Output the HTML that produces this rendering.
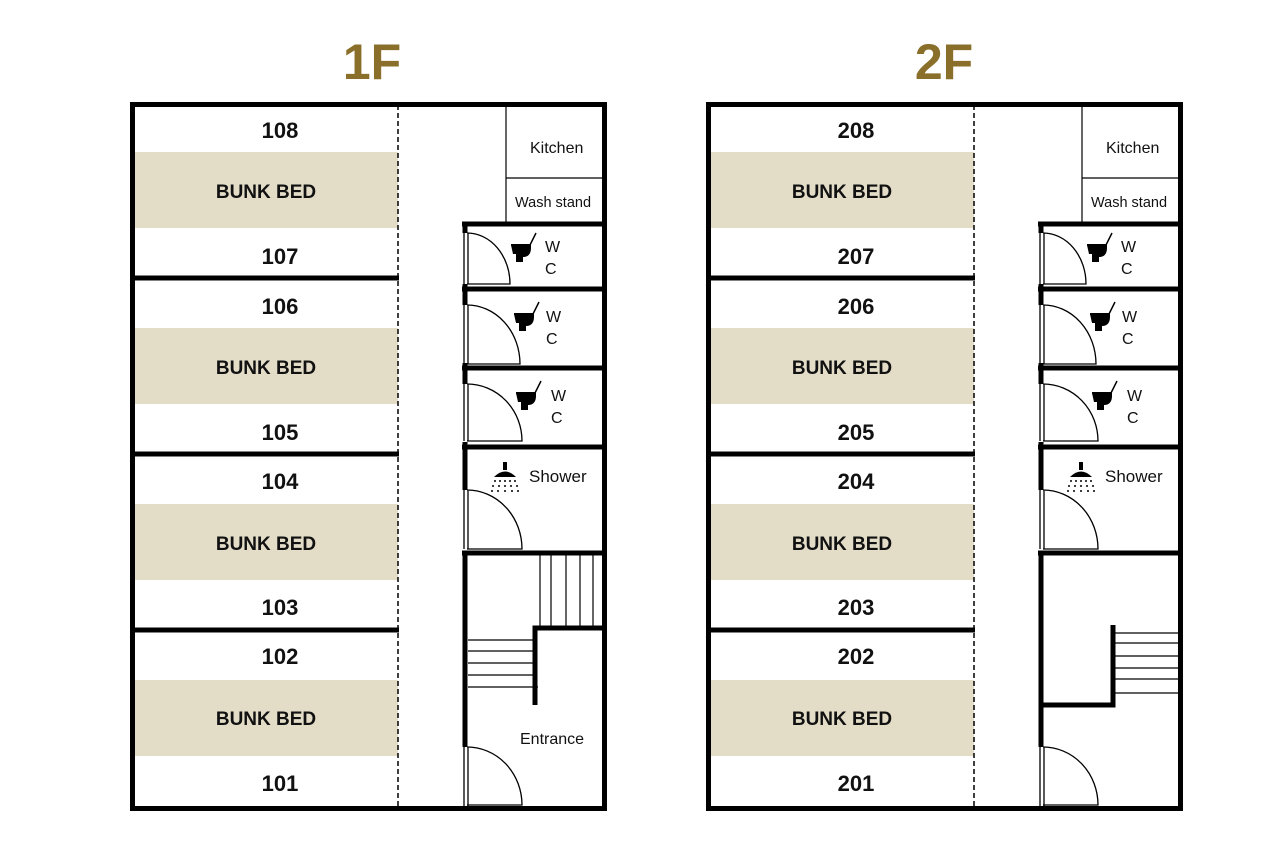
<!DOCTYPE html>
<html><head><meta charset="utf-8"><style>
html,body{margin:0;padding:0;background:#fff;}
svg{display:block;}
text{font-family:"Liberation Sans",sans-serif;}
.rn{font-size:22px;font-weight:bold;fill:#111;text-anchor:middle;}
.bb{font-size:19px;font-weight:bold;fill:#111;text-anchor:middle;}
.sm{font-size:16px;fill:#111;}
.ti{font-size:50px;font-weight:bold;fill:#8a6f2a;text-anchor:middle;}
</style></head><body>
<svg width="1280" height="854" viewBox="0 0 1280 854" xmlns="http://www.w3.org/2000/svg">
<defs>
 <g id="toilet">
  <line x1="0" y1="0" x2="6" y2="-12" stroke="#000" stroke-width="1.5"/>
  <path d="M-19 0 H1 V3 C1 9 -2 12 -7 12 V17 H-14 V9 H-17 Z" fill="#000"/>
  <line x1="-19" y1="0" x2="1" y2="0" stroke="#000" stroke-width="2"/>
 </g>
 <g id="shower" fill="#000">
  <rect x="-2" y="-14" width="4" height="8"/>
  <path d="M-11 1 Q0 -10 11 1 Z"/>
  <g>
   <circle cx="-10" cy="5" r="1"/><circle cx="-5" cy="5" r="1"/><circle cx="0" cy="5" r="1"/><circle cx="5" cy="5" r="1"/><circle cx="10" cy="5" r="1"/>
   <circle cx="-12" cy="10" r="1"/><circle cx="-6" cy="10" r="1"/><circle cx="0" cy="10" r="1"/><circle cx="6" cy="10" r="1"/><circle cx="12" cy="10" r="1"/>
   <circle cx="-13" cy="15" r="1"/><circle cx="-7" cy="15" r="1"/><circle cx="0" cy="15" r="1"/><circle cx="7" cy="15" r="1"/><circle cx="13" cy="15" r="1"/>
  </g>
 </g>
 <g id="floor">
  <!-- bunk beds -->
  <g fill="#e3ddc8">
   <rect x="135" y="152" width="263" height="76"/>
   <rect x="135" y="328" width="263" height="76"/>
   <rect x="135" y="504" width="263" height="76"/>
   <rect x="135" y="680" width="263" height="76"/>
  </g>
  <!-- dashed corridor line -->
  <line x1="398" y1="105" x2="398" y2="809" stroke="#000" stroke-width="1.5" stroke-dasharray="5,3"/>
  <!-- room walls -->
  <g stroke="#000" stroke-width="5">
   <line x1="130" y1="278" x2="399" y2="278"/>
   <line x1="130" y1="454" x2="399" y2="454"/>
   <line x1="130" y1="630" x2="399" y2="630"/>
  </g>
  <!-- kitchen -->
  <g stroke="#000" stroke-width="1.2" fill="none">
   <line x1="506" y1="104" x2="506" y2="222"/>
   <line x1="506" y1="178" x2="604" y2="178"/>
  </g>
  <!-- wc block walls -->
  <g stroke="#000" stroke-width="5">
   <line x1="462" y1="224" x2="606" y2="224"/>
   <line x1="462" y1="289" x2="606" y2="289"/>
   <line x1="462" y1="368" x2="606" y2="368"/>
   <line x1="462" y1="447" x2="606" y2="447"/>
   <line x1="462" y1="553" x2="606" y2="553"/>
   <line x1="465" y1="222" x2="465" y2="233"/>
   <line x1="465" y1="284" x2="465" y2="305"/>
   <line x1="465" y1="363" x2="465" y2="384"/>
   <line x1="465" y1="442" x2="465" y2="490"/>
  </g>
  <!-- doors -->
  <g stroke="#000" stroke-width="1.3" fill="none">
   <path d="M464 233 V284 M468 233 V284 M467 233 A43 51 0 0 1 510 284 H467"/>
   <path d="M464 305 V364 M468 305 V364 M467 305 A53 59 0 0 1 520 364 H467"/>
   <path d="M464 384 V441 M468 384 V441 M467 384 A55 57 0 0 1 522 441 H467"/>
   <path d="M464 490 V549 M468 490 V549 M467 490 A55 59 0 0 1 522 549 H467"/>
   <path d="M464 747 V808 M468 747 V808 M467 747 A55 58 0 0 1 522 805 H467"/>
  </g>
  <use href="#toilet" x="530" y="245"/>
  <use href="#toilet" x="533" y="314"/>
  <use href="#toilet" x="535" y="393"/>
  <use href="#shower" x="505" y="476"/>
  <!-- outer -->
  <rect x="132.5" y="104.5" width="472" height="704" fill="none" stroke="#000" stroke-width="5"/>
 </g>
</defs>

<text class="ti" x="372" y="79">1F</text>
<text class="ti" x="944" y="79">2F</text>

<use href="#floor"/>
<use href="#floor" x="576"/>

<!-- 1F stairs -->
<g stroke="#000" stroke-width="5" fill="none">
 <line x1="465" y1="551" x2="465" y2="747"/>
 <path d="M604 628 H535 V705"/>
</g>
<g stroke="#000" stroke-width="1.2">
 <line x1="540" y1="555" x2="540" y2="626"/>
 <line x1="551" y1="555" x2="551" y2="626"/>
 <line x1="566" y1="555" x2="566" y2="626"/>
 <line x1="580" y1="555" x2="580" y2="626"/>
 <line x1="593" y1="555" x2="593" y2="626"/>
 <line x1="468" y1="640" x2="533" y2="640"/>
 <line x1="468" y1="651" x2="533" y2="651"/>
 <line x1="468" y1="663" x2="533" y2="663"/>
 <line x1="468" y1="675" x2="533" y2="675"/>
 <line x1="468" y1="687" x2="538" y2="687"/>
</g>

<!-- 2F stairs -->
<g stroke="#000" stroke-width="5" fill="none">
 <line x1="1041" y1="551" x2="1041" y2="747"/>
 <path d="M1041 705 H1113 V625"/>
</g>
<g stroke="#000" stroke-width="1.2">
 <line x1="1115" y1="633" x2="1180" y2="633"/>
 <line x1="1115" y1="643" x2="1180" y2="643"/>
 <line x1="1115" y1="656" x2="1180" y2="656"/>
 <line x1="1115" y1="668" x2="1180" y2="668"/>
 <line x1="1115" y1="679" x2="1180" y2="679"/>
 <line x1="1115" y1="693" x2="1180" y2="693"/>
</g>

<!-- 1F text -->
<g>
 <text class="rn" x="280" y="138">108</text>
 <text class="bb" x="266" y="198">BUNK BED</text>
 <text class="rn" x="280" y="264">107</text>
 <text class="rn" x="280" y="314">106</text>
 <text class="bb" x="266" y="374">BUNK BED</text>
 <text class="rn" x="280" y="440">105</text>
 <text class="rn" x="280" y="489">104</text>
 <text class="bb" x="266" y="550">BUNK BED</text>
 <text class="rn" x="280" y="615">103</text>
 <text class="rn" x="280" y="664">102</text>
 <text class="bb" x="266" y="725">BUNK BED</text>
 <text class="rn" x="280" y="791">101</text>
 <text class="sm" x="530" y="153">Kitchen</text>
 <text class="sm" x="515" y="207" style="font-size:14.5px">Wash stand</text>
 <text class="sm" x="545" y="252">W</text><text class="sm" x="545" y="274">C</text>
 <text class="sm" x="546" y="322">W</text><text class="sm" x="546" y="344">C</text>
 <text class="sm" x="551" y="401">W</text><text class="sm" x="551" y="423">C</text>
 <text class="sm" x="529" y="482" style="font-size:17px">Shower</text>
 <text class="sm" x="520" y="744">Entrance</text>
</g>
<!-- 2F text -->
<g>
 <text class="rn" x="856" y="138">208</text>
 <text class="bb" x="842" y="198">BUNK BED</text>
 <text class="rn" x="856" y="264">207</text>
 <text class="rn" x="856" y="314">206</text>
 <text class="bb" x="842" y="374">BUNK BED</text>
 <text class="rn" x="856" y="440">205</text>
 <text class="rn" x="856" y="489">204</text>
 <text class="bb" x="842" y="550">BUNK BED</text>
 <text class="rn" x="856" y="615">203</text>
 <text class="rn" x="856" y="664">202</text>
 <text class="bb" x="842" y="725">BUNK BED</text>
 <text class="rn" x="856" y="791">201</text>
 <text class="sm" x="1106" y="153">Kitchen</text>
 <text class="sm" x="1091" y="207" style="font-size:14.5px">Wash stand</text>
 <text class="sm" x="1121" y="252">W</text><text class="sm" x="1121" y="274">C</text>
 <text class="sm" x="1122" y="322">W</text><text class="sm" x="1122" y="344">C</text>
 <text class="sm" x="1127" y="401">W</text><text class="sm" x="1127" y="423">C</text>
 <text class="sm" x="1105" y="482" style="font-size:17px">Shower</text>
</g>
</svg>
</body></html>
